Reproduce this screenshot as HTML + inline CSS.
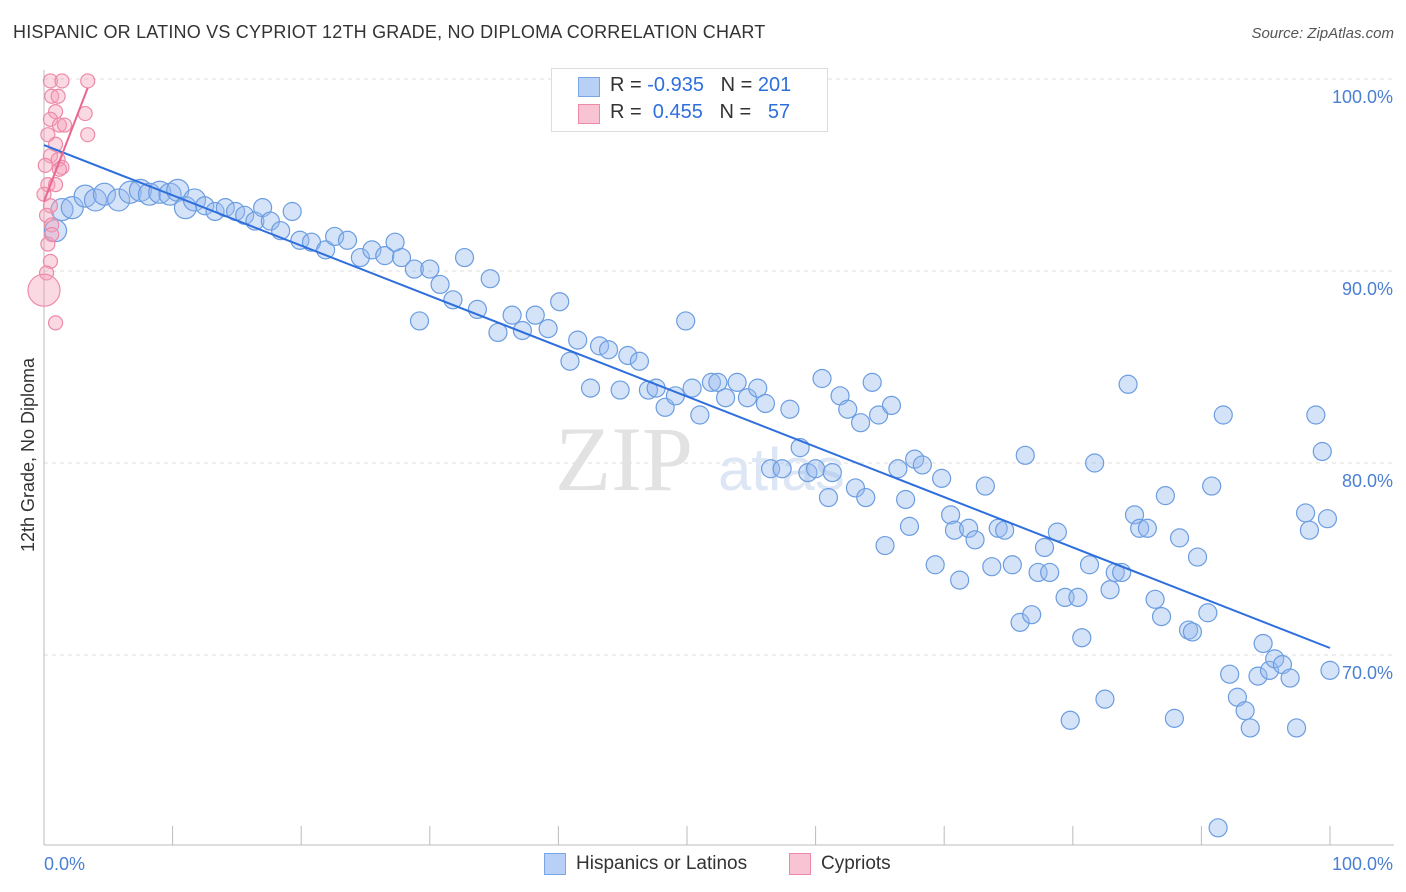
<!DOCTYPE html>
<html><head><meta charset="utf-8">
<style>
body{margin:0;background:#fff;font-family:"Liberation Sans",sans-serif;}
#wrap{position:relative;width:1406px;height:892px;overflow:hidden;}
.t{position:absolute;white-space:nowrap;}
</style></head>
<body>
<div id="wrap">
<div class="t" style="left:13px;top:22px;font-size:18px;color:#333;letter-spacing:0.2px">HISPANIC OR LATINO VS CYPRIOT 12TH GRADE, NO DIPLOMA CORRELATION CHART</div>
<div class="t" style="right:12px;top:25px;font-size:15px;color:#555;font-style:italic">Source: ZipAtlas.com</div>
<svg id="svg" width="1406" height="892" style="position:absolute;left:0;top:0"></svg>
</div>
<script>
const blueX=[0.9,1.4,2.2,3.2,4.0,4.7,5.8,6.7,7.5,8.2,9.0,9.8,10.4,11.0,11.7,12.5,13.3,14.1,14.9,15.6,16.4,17.0,17.6,18.4,19.3,19.9,20.8,21.9,22.6,23.6,24.6,25.5,26.5,27.3,27.8,28.8,29.2,30.0,30.8,31.8,32.7,33.7,34.7,35.3,36.4,37.2,38.2,39.2,40.1,40.9,41.5,42.5,43.2,43.9,44.8,45.4,46.3,47.0,47.6,48.3,49.1,49.9,50.4,51.0,51.9,52.4,53.0,53.9,54.7,55.5,56.1,56.5,57.4,58.0,58.8,59.4,60.0,60.5,61.0,61.3,61.9,62.5,63.1,63.5,63.9,64.4,64.9,65.4,65.9,66.4,67.0,67.3,67.7,68.3,69.3,69.8,70.5,70.8,71.2,71.9,72.4,73.2,73.7,74.2,74.7,75.3,75.9,76.3,76.8,77.3,77.8,78.2,78.8,79.4,79.8,80.4,80.7,81.3,81.7,82.5,82.9,83.3,83.8,84.3,84.8,85.2,85.8,86.4,86.9,87.2,87.9,88.3,89.0,89.3,89.7,90.5,90.8,91.3,91.7,92.2,92.8,93.4,93.8,94.4,94.8,95.3,95.7,96.3,96.9,97.4,98.1,98.4,98.9,99.4,99.8,100.0];
const blueY=[92.1,93.2,93.3,93.9,93.7,94.0,93.7,94.1,94.2,94.0,94.1,94.0,94.2,93.3,93.7,93.4,93.1,93.3,93.1,92.9,92.6,93.3,92.6,92.1,93.1,91.6,91.5,91.1,91.8,91.6,90.7,91.1,90.8,91.5,90.7,90.1,87.4,90.1,89.3,88.5,90.7,88.0,89.6,86.8,87.7,86.9,87.7,87.0,88.4,85.3,86.4,83.9,86.1,85.9,83.8,85.6,85.3,83.8,83.9,82.9,83.5,87.4,83.9,82.5,84.2,84.2,83.4,84.2,83.4,83.9,83.1,79.7,79.7,82.8,80.8,79.5,79.7,84.4,78.2,79.5,83.5,82.8,78.7,82.1,78.2,84.2,82.5,75.7,83.0,79.7,78.1,76.7,80.2,79.9,74.7,79.2,77.3,76.5,73.9,76.6,76.0,78.8,74.6,76.6,76.5,74.7,71.7,80.4,72.1,74.3,75.6,74.3,76.4,73.0,66.6,73.0,70.9,74.7,80.0,67.7,73.4,74.3,74.3,84.1,77.3,76.6,76.6,72.9,72.0,78.3,66.7,76.1,71.3,71.2,75.1,72.2,78.8,61.0,82.5,69.0,67.8,67.1,66.2,68.9,70.6,69.2,69.8,69.5,68.8,66.2,77.4,76.5,82.5,80.6,77.1,69.2];
const pinkX=[0.5,1.4,3.4,0.6,1.1,0.9,3.2,0.5,1.2,1.6,0.3,3.4,0.9,0.5,1.1,0.1,1.4,0.3,0,0.5,0.2,0.6,0.3,0.5,0.2,0,0.9,0.6,0.9,1.2];
const pinkY=[99.9,99.9,99.9,99.1,99.1,98.3,98.2,97.9,97.6,97.6,97.1,97.1,96.6,96.0,95.8,95.5,95.4,94.5,94.0,93.4,92.9,92.4,91.4,90.5,89.9,89.0,87.3,91.9,94.5,95.3];
const yTicks=[100,90,80,70];
const yTickLabels=["100.0%","90.0%","80.0%","70.0%"];
const xTickLabels=["0.0%","100.0%"];

const NS="http://www.w3.org/2000/svg";
const svg=document.getElementById('svg');
const X=v=>44+v*12.86, Y=v=>79+(100-v)*19.2;
function mk(tag,attrs){const e=document.createElementNS(NS,tag);for(const k in attrs)e.setAttribute(k,attrs[k]);svg.appendChild(e);return e;}
// gridlines
yTicks.forEach((t,i)=>{
 const g=mk('line',{x1:44,x2:1394,y1:Y(t),y2:Y(t),stroke:'#ddd','stroke-dasharray':'4,4'});
 
 
 const tx=mk('text',{x:1393,y:Y(t)+24,'text-anchor':'end','font-size':18,fill:'#4a7fd4','font-family':'Liberation Sans'});
 tx.textContent=yTickLabels[i];
 
 
});
// axes
const ax=mk('line',{x1:44,x2:1394,y1:845,y2:845,stroke:'#bbb'});


const ay=mk('line',{x1:44,x2:44,y1:70,y2:845,stroke:'#bbb'});


for(let i=0;i<=10;i++){const tk=mk('line',{x1:X(i*10),x2:X(i*10),y1:826,y2:845,stroke:'#bbb'});
 
 }
const xl0=mk('text',{x:44,y:870,'font-size':18,fill:'#4a7fd4','font-family':'Liberation Sans'});xl0.textContent=xTickLabels[0];


const xl1=mk('text',{x:1393,y:870,'text-anchor':'end','font-size':18,fill:'#4a7fd4','font-family':'Liberation Sans'});xl1.textContent=xTickLabels[1];


const yt=mk('text',{x:34,y:455,'text-anchor':'middle','font-size':18,fill:'#333',transform:'rotate(-90 34 455)','font-family':'Liberation Sans'});yt.textContent='12th Grade, No Diploma';


// watermark
const wm=mk('text',{x:555,y:490,'font-size':92,fill:'#e2e2e2','font-family':'Liberation Serif'});wm.textContent='ZIP';


const wm2=mk('text',{x:718,y:490,'font-size':60,fill:'#dde6f4','font-family':'Liberation Sans'});wm2.textContent='atlas';


// points
blueX.forEach((x,i)=>{const c=mk('circle',{cx:X(x),cy:Y(blueY[i]),r:x<12?11:9,fill:'rgba(150,185,240,0.4)',stroke:'#6b9de0','stroke-width':1.2});
 
 });
pinkX.forEach((x,i)=>{const c=mk('circle',{cx:X(x),cy:Y(pinkY[i]),r:pinkY[i]===89.0?16:7,fill:'rgba(245,160,185,0.4)',stroke:'#ec8aa8','stroke-width':1.2});
 
 });
// regression
function reg(xs,ys){const n=xs.length;let mx=0,my=0;xs.forEach((x,i)=>{mx+=x;my+=ys[i]});mx/=n;my/=n;let sxy=0,sxx=0;xs.forEach((x,i)=>{sxy+=(x-mx)*(ys[i]-my);sxx+=(x-mx)*(x-mx)});const b=sxy/sxx;return [my-b*mx,b];}
const [ab,bb]=reg(blueX,blueY);
const bl=mk('line',{x1:X(0),y1:Y(ab),x2:X(100),y2:Y(ab+bb*100),stroke:'#2f6fdc','stroke-width':2});


const [ap,bp]=reg(pinkX,pinkY);
const pl=mk('line',{x1:X(0),y1:Y(ap),x2:X(3.4),y2:Y(ap+bp*3.4),stroke:'#e8668f','stroke-width':2});


</script>
<div class="t" style="left:551px;top:68px;width:275px;height:62px;border:1px solid #ddd;background:#fff;font-size:20px">
 <div style="position:absolute;left:26px;top:8px;width:20px;height:18px;background:#b8d0f6;border:1px solid #7aa6e6"></div>
 <div style="position:absolute;left:58px;top:5px;color:#333">R = <span style="color:#2f6fdc">-0.935</span>&nbsp;&nbsp;&nbsp;N = <span style="color:#2f6fdc">201</span></div>
 <div style="position:absolute;left:26px;top:35px;width:20px;height:18px;background:#f8c4d4;border:1px solid #ec8aa8"></div>
 <div style="position:absolute;left:58px;top:32px;color:#333">R = &nbsp;<span style="color:#2f6fdc">0.455</span>&nbsp;&nbsp;&nbsp;N = &nbsp;&nbsp;<span style="color:#2f6fdc">57</span></div>
</div>
<div class="t" style="left:544px;top:853px;width:20px;height:20px;background:#b8d0f6;border:1px solid #7aa6e6"></div>
<div class="t" style="left:576px;top:853px;font-size:19px;color:#333">Hispanics or Latinos</div>
<div class="t" style="left:789px;top:853px;width:20px;height:20px;background:#f8c4d4;border:1px solid #ec8aa8"></div>
<div class="t" style="left:821px;top:853px;font-size:19px;color:#333">Cypriots</div>
</body></html>
